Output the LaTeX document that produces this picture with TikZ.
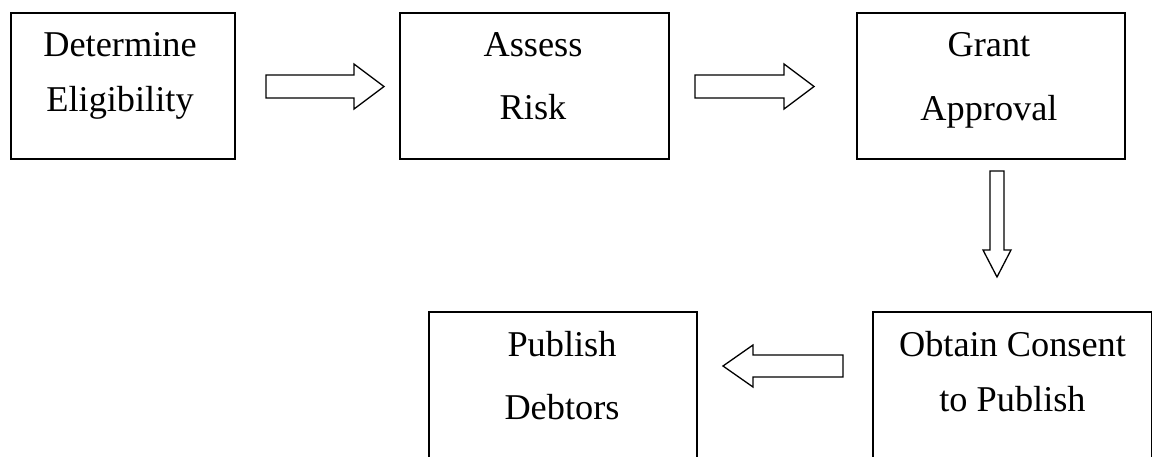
\documentclass[tikz,border=0pt]{standalone}
\usepackage{fontspec}
\setmainfont{Liberation Serif}
\begin{document}
\begin{tikzpicture}[x=1pt,y=-1pt,
  box/.style={draw, line width=2pt, inner sep=0pt, anchor=north west, minimum height=146pt},
  blockarrow/.style={draw, line width=1.3pt, line join=miter},
  lbl/.style={anchor=base, inner sep=0pt, font=\fontsize{36.3}{44}\selectfont}]
\useasboundingbox (0,0) rectangle (1152,456);
\clip (0,0) rectangle (1152,456);

% boxes
\node[box, minimum width=224pt] (b1) at (10,12) {};
\node[box, minimum width=269pt] (b2) at (399,12) {};
\node[box, minimum width=268pt] (b3) at (856,12) {};
\node[box, minimum width=279pt] (b4) at (872,311) {};
\node[box, minimum width=268pt] (b5) at (428,311) {};

% labels
\node[lbl] (t1a) at (120,56) {Determine};
\node[lbl] (t1b) at (120,111) {Eligibility};
\node[lbl] (t2a) at (533,56) {Assess};
\node[lbl] (t2b) at (533,119) {Risk};
\node[lbl] (t3a) at (989,56) {Grant};
\node[lbl] (t3b) at (989,120) {Approval};
\node[lbl] (t4a) at (1012.5,356) {Obtain Consent};
\node[lbl] (t4b) at (1012.5,411) {to Publish};
\node[lbl] (t5a) at (562,356) {Publish};
\node[lbl] (t5b) at (562,419) {Debtors};

% block arrows
\draw[blockarrow] (266,75) -- (354,75) -- (354,64) -- (384,86.5) -- (354,109) -- (354,98) -- (266,98) -- cycle;
\draw[blockarrow] (695,75) -- (784,75) -- (784,64) -- (814,86.5) -- (784,109) -- (784,98) -- (695,98) -- cycle;
\draw[blockarrow] (990,171) -- (1004,171) -- (1004,250) -- (1011,250) -- (997,277) -- (983,250) -- (990,250) -- cycle;
\draw[blockarrow] (843,355) -- (753,355) -- (753,345) -- (723,366) -- (753,387) -- (753,377) -- (843,377) -- cycle;
\end{tikzpicture}
\end{document}
